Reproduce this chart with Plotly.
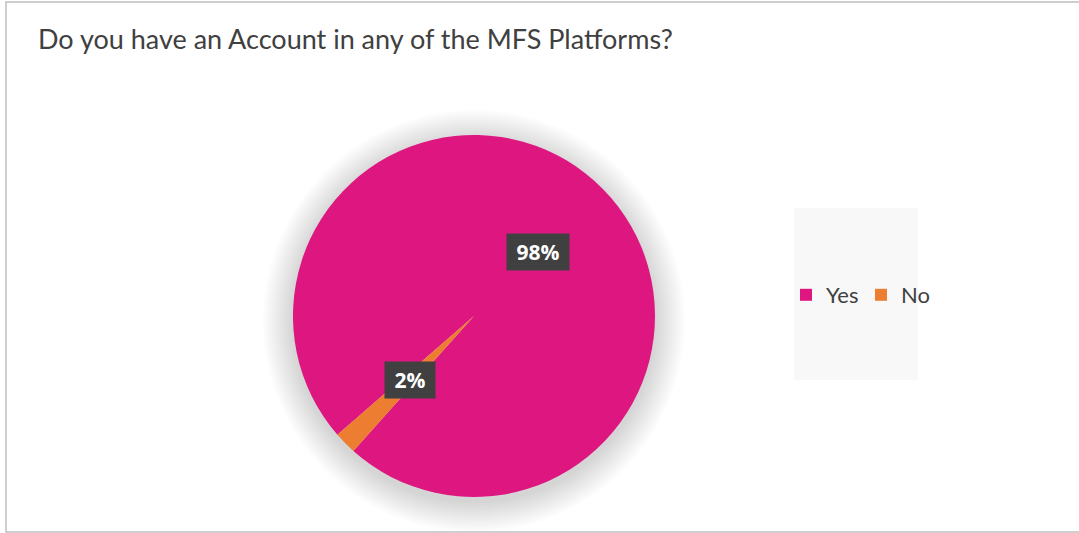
import math
import plotly.graph_objects as go

# Survey answers
labels = ["Yes", "No"]
values = [98, 2]
colors = ["#DE1780", "#ED7D31"]

title_text = "Do you have an Account in any of the MFS Platforms?"

W, H = 1079, 533
FONT = "Lato, 'Open Sans', sans-serif"
TEXT_COLOR = "#404040"

# Pie geometry in pixels
cx, cy, R = 474, 316, 181
rotation = 229

dom_x = [(cx - R) / W, (cx + R) / W]
dom_y = [(H - cy - R) / H, (H - cy + R) / H]

fig = go.Figure(
    go.Pie(
        labels=labels,
        values=values,
        sort=False,
        direction="clockwise",
        rotation=rotation,
        marker=dict(colors=colors, line=dict(width=0)),
        textinfo="none",
        hoverinfo="label+percent",
        domain=dict(x=dom_x, y=dom_y),
    )
)

shapes = []
# Chart border
shapes.append(dict(type="rect", xref="paper", yref="paper",
                   x0=6 / W, x1=1.01, y0=(H - 532) / H, y1=(H - 2) / H,
                   line=dict(color="#BFBFBF", width=1.5), fillcolor="rgba(0,0,0,0)",
                   layer="below"))
# Soft shadow behind the pie
for k in range(14):
    rr = R + 30 - k * 2.2
    oy = 5
    shapes.append(dict(type="circle", xref="paper", yref="paper",
                       x0=(cx - rr) / W, x1=(cx + rr) / W,
                       y0=(H - (cy + oy) - rr) / H, y1=(H - (cy + oy) + rr) / H,
                       line=dict(width=0), fillcolor="rgba(0,0,0,0.010)",
                       layer="below"))
# Legend background panel
shapes.append(dict(type="rect", xref="paper", yref="paper",
                   x0=794 / W, x1=918 / W, y0=(H - 380) / H, y1=(H - 208) / H,
                   line=dict(width=0), fillcolor="#F8F8F8", layer="below"))

annotations = [
    dict(text=title_text, xref="paper", yref="paper", x=36 / W, y=(H - 38) / H,
         xanchor="left", yanchor="middle", showarrow=False,
         font=dict(family=FONT, size=27, color=TEXT_COLOR)),
]

# Percentage labels placed at each slice's mid-angle, half-way out
NBSP = "\u00a0"
total = sum(values)
start = rotation
for v in values:
    span = 360 * v / total
    mid = math.radians(start + span / 2)
    px = cx + 0.5 * R * math.sin(mid)
    py = cy - 0.5 * R * math.cos(mid)
    annotations.append(dict(
        text=f"{NBSP}<b>{v / total * 100:.0f}%</b>{NBSP}", xref="paper", yref="paper",
        x=px / W, y=(H - py) / H, xanchor="center", yanchor="middle",
        showarrow=False, bgcolor="#404040", borderpad=4,
        font=dict(family="'Open Sans', sans-serif", size=21, color="white")))
    start += span

fig.update_layout(
    width=W, height=H,
    margin=dict(l=0, r=0, t=0, b=0),
    paper_bgcolor="white",
    plot_bgcolor="white",
    showlegend=True,
    legend=dict(orientation="h", x=786 / W, y=(H - 295) / H,
                xanchor="left", yanchor="middle",
                bgcolor="rgba(0,0,0,0)", traceorder="normal",
                entrywidth=30, entrywidthmode="pixels",
                font=dict(family=FONT, size=22, color=TEXT_COLOR),
                itemclick=False),
    shapes=shapes,
    annotations=annotations,
)

fig.write_html("out.html")
